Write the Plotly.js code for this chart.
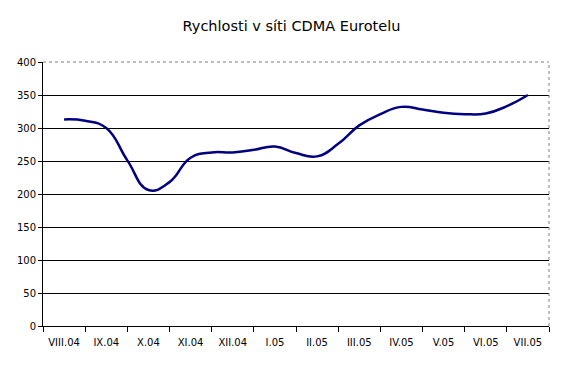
<!DOCTYPE html>
<html>
<head>
<meta charset="utf-8">
<script src="https://cdn.plot.ly/plotly-3.0.1.min.js"></script>
<style>html,body{margin:0;padding:0;background:#fff;}#chart{width:583px;height:366px;}</style>
</head>
<body>
<div id="chart"></div>
<script>
// Category labels (months)
const monthLabels = ["VIII.04","IX.04","X.04","XI.04","XII.04","I.05","II.05","III.05","IV.05","V.05","VI.05","VII.05"];
// Measurement positions (in month index units, half-month steps)
const positions = [0,0.5,1,1.5,2,2.5,3,3.5,4,4.5,5,5.5,6,6.5,7,7.5,8,8.5,9,9.5,10,10.5,11];
// Speeds
const speeds = [313,311,300,251,206,218,255,263,263,267,272,262,257,276,304,321,332,328,323,321,322,333,350];
const yTicks = [0,50,100,150,200,250,300,350,400];
const yGrid = [50,100,150,200,250,300,350];

const monthIdx = monthLabels.map((_, i) => i);
const boundaries = monthLabels.map((_, i) => i - 0.5).concat([monthLabels.length - 0.5]);

const font = "Tahoma, 'DejaVu Sans', Verdana, sans-serif";

Plotly.newPlot("chart", [{
  x: positions,
  y: speeds,
  type: "scatter",
  mode: "lines",
  line: {color: "#000080", width: 2.5, shape: "spline", smoothing: 1.3},
  hoverinfo: "skip"
}], {
  width: 583, height: 366,
  margin: {l: 43, r: 34, t: 62, b: 40},
  paper_bgcolor: "#fff", plot_bgcolor: "#fff",
  showlegend: false,
  font: {family: font, size: 10, color: "#000"},
  title: {text: "Rychlosti v síti CDMA Eurotelu", font: {family: font, size: 14.5, color: "#000"}, x: 0.5, xanchor: "center", y: 0.93, yanchor: "middle"},
  xaxis: {
    range: [-0.5, monthLabels.length - 0.5],
    tickvals: monthIdx, ticktext: monthLabels,
    ticks: "", showgrid: false, zeroline: false,
    showline: true, linecolor: "#000", linewidth: 1,
    ticklabelstandoff: 7,
    tickfont: {family: font, size: 10, color: "#000"},
    minor: {tickvals: boundaries, ticks: "outside", ticklen: 5, tickcolor: "#000", tickwidth: 1, showgrid: false},
    fixedrange: true
  },
  yaxis: {
    range: [0, 400],
    tickvals: yTicks,
    ticks: "outside", ticklen: 4, tickcolor: "#000",
    showgrid: false, zeroline: false,
    showline: true, linecolor: "#000", linewidth: 1,
    tickfont: {family: font, size: 10, color: "#000"},
    minor: {tickvals: yGrid, showgrid: true, gridcolor: "#000", gridwidth: 1, ticks: ""},
    fixedrange: true
  },
  shapes: [
    {type: "line", xref: "paper", yref: "paper", x0: 0, x1: 1, y0: 1, y1: 1, line: {color: "#808080", width: 1, dash: "dot"}},
    {type: "line", xref: "paper", yref: "paper", x0: 1, x1: 1, y0: 0, y1: 1, line: {color: "#808080", width: 1, dash: "dot"}}
  ]
}, {staticPlot: true});
</script>
</body>
</html>
